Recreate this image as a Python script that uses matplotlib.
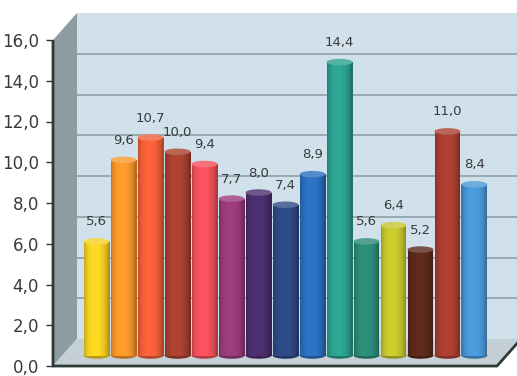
import numpy as np
import matplotlib.pyplot as plt
from matplotlib.patches import Rectangle, Ellipse, Polygon
from matplotlib.transforms import Affine2D
from matplotlib.colors import to_rgb

values = [5.6, 9.6, 10.7, 10.0, 9.4, 7.7, 8.0, 7.4, 8.9, 14.4, 5.6, 6.4, 5.2, 11.0, 8.4]
colors = ['#f5d020', '#f7962a', '#f25e36', '#a6402e', '#f2505a', '#983a78',
          '#4a2e6c', '#2c4886', '#2a6ebe', '#2aa08e', '#2a8a76', '#c4c42c',
          '#5a2818', '#a83e30', '#4896d6']
yticks = [0, 2, 4, 6, 8, 10, 12, 14, 16]
tick_labels = ['0,0', '2,0', '4,0', '6,0', '8,0', '10,0', '12,0', '14,0', '16,0']

FONT = ['Liberation Sans Narrow', 'DejaVu Sans']
plt.rcParams['font.family'] = FONT

fig = plt.figure(figsize=(5.17, 3.76), dpi=100)
ax = fig.add_axes([53 / 517, 10 / 376, 444 / 517, 326 / 376])
ax.set_xlim(-1.17, 15.28)
ax.set_ylim(0, 16)
for s in ax.spines.values():
    s.set_visible(False)
ax.set_xticks([])
ax.set_yticks(yticks)
ax.set_yticklabels(tick_labels, fontsize=12, color='#3a3a3a')
ax.tick_params(axis='y', length=5, width=1, color='#333333', pad=5)

# depth offsets in pixels
DX, DY = 24, 27
back = ax.transData + Affine2D().translate(DX, DY)
mid = ax.transData + Affine2D().translate(DX / 2, DY / 2 - 3)
x0, x1 = ax.get_xlim()

# back wall
ax.add_patch(Rectangle((x0, 0), x1 - x0 + 2, 16, transform=back, facecolor='#d0e1eb',
                       edgecolor='none', clip_on=False, zorder=0))
for y in yticks[1:-1]:
    ax.plot([x0, x1 + 2], [y, y], transform=back, color='#95a5ac', lw=1.3,
            clip_on=False, zorder=1)

# left side wall and floor (computed in display space)
def disp(x, y, dx=0, dy=0):
    px, py = ax.transData.transform((x, y))
    return (px + dx, py + dy)

side = [disp(x0, 16), disp(x0, 16, DX, DY), disp(x0, 0, DX, DY), disp(x0, 0)]
ax.add_patch(Polygon(side, closed=True, transform=None, facecolor='#8c9ca1',
                     edgecolor='none', clip_on=False, zorder=1))
floor = [disp(x0, 0), disp(x1, 0), disp(x1, 0, DX, DY), disp(x0, 0, DX, DY)]
ax.add_patch(Polygon(floor, closed=True, transform=None, facecolor='#c4d0d5',
                     edgecolor='none', clip_on=False, zorder=1))
edge = [disp(x0, 16), disp(x0, 0), disp(x1, 0), disp(x1, 0, DX, DY)]
ax.add_patch(Polygon(edge, closed=False, transform=None, fill=False,
                     edgecolor='#2e3a3a', lw=2, clip_on=False, zorder=2))

# cylinders
w = 0.48
n = 24
eh = 0.32
for i, (v, c) in enumerate(zip(values, colors)):
    base = np.array(to_rgb(c))
    ax.add_patch(Ellipse((i, 0), 2 * w, eh, transform=mid, facecolor=base * 0.75,
                         edgecolor='none', zorder=3))
    for k in range(n):
        t = (k + 0.5) / n
        f = 0.72 + 0.38 * np.sin(np.pi * t) ** 0.5 - 0.1 * t
        col = np.clip(base * f, 0, 1)
        ax.add_patch(Rectangle((i - w + k * 2 * w / n, 0), 2 * w / n * 1.05, v,
                               transform=mid, facecolor=col, edgecolor='none', zorder=3))
    top = np.clip(base * 0.8 + 0.2, 0, 1)
    ax.add_patch(Ellipse((i, v), 2 * w, eh, transform=mid, facecolor=top,
                         edgecolor='none', zorder=4))
    ax.annotate(f'{v:.1f}'.replace('.', ','), (i, v + eh / 2), xycoords=mid,
                xytext=(0, 7), textcoords='offset points', ha='center', va='bottom',
                fontsize=9.5, color='#3a3a3a', zorder=5)

fig.savefig('out.png', dpi=100)
